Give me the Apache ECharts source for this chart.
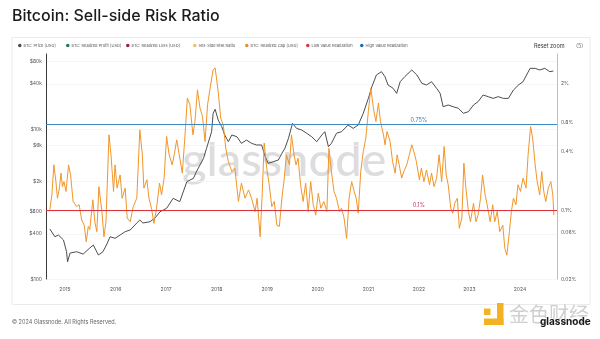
<!DOCTYPE html>
<html>
<head>
<meta charset="utf-8">
<script src="https://cdn.jsdelivr.net/npm/echarts@6/dist/echarts.min.js"></script>
<style>
html,body{margin:0;padding:0;background:#fff;}
#chart{width:600px;height:339px;}
</style>
</head>
<body>
<div id="chart"></div>
<script>
// ---- Data ----
const priceDates = [2014.70,2014.80,2014.87,2014.97,2015.03,2015.05,2015.10,2015.23,2015.36,2015.49,
2015.56,2015.66,2015.75,2015.82,2015.89,2015.99,2016.09,2016.19,2016.29,2016.42,
2016.48,2016.54,2016.68,2016.78,2016.88,2017.01,2017.14,2017.27,2017.41,2017.54,
2017.60,2017.74,2017.80,2017.90,2017.93,2017.97,2018.03,2018.10,2018.16,2018.23,
2018.30,2018.40,2018.49,2018.59,2018.69,2018.79,2018.89,2018.96,2019.02,2019.12,
2019.22,2019.29,2019.35,2019.42,2019.50,2019.58,2019.68,2019.78,2019.88,2019.98,
2020.08,2020.14,2020.21,2020.27,2020.37,2020.47,2020.60,2020.70,2020.80,2020.90,
2021.00,2021.07,2021.16,2021.26,2021.33,2021.39,2021.49,2021.56,2021.63,2021.72,
2021.86,2021.96,2022.06,2022.15,2022.25,2022.35,2022.42,2022.48,2022.58,2022.68,
2022.78,2022.88,2022.98,2023.08,2023.17,2023.27,2023.37,2023.47,2023.57,2023.67,
2023.77,2023.87,2023.97,2024.06,2024.13,2024.20,2024.30,2024.39,2024.49,2024.59,
2024.66];
const priceValues = [464,366,386,331,231,170,222,231,215,259,
284,209,231,284,366,349,386,428,450,558,
612,558,580,651,789,877,1191,1074,1983,2201,
2700,4064,5530,9210,16200,18300,13180,10750,8320,6780,
8320,7890,6440,7130,6440,6120,6120,4270,3490,3660,
3860,4740,5530,7510,11900,10200,9700,8770,7890,6780,
8320,9210,5810,6440,8770,9210,11300,10200,11300,16200,
25600,36600,52500,58100,49800,38600,34900,29900,42700,49800,
61200,52500,40600,38600,42700,34900,29900,19800,20900,19800,
18900,16200,17000,20900,23100,28400,27000,25600,27000,25600,
25600,33100,38600,42700,52500,64400,64400,61200,64400,58100,
59300];

const ssrDates = [2014.70,2014.74,2014.78,2014.82,2014.85,2014.89,2014.92,2014.95,2014.98,2015.02,
2015.07,2015.11,2015.16,2015.23,2015.28,2015.33,2015.38,2015.42,2015.46,2015.49,
2015.55,2015.59,2015.63,2015.67,2015.73,2015.77,2015.81,2015.87,2015.91,2015.96,
2015.99,2016.03,2016.09,2016.13,2016.19,2016.23,2016.29,2016.35,2016.42,2016.48,
2016.53,2016.56,2016.62,2016.66,2016.71,2016.76,2016.81,2016.87,2016.91,2016.96,
2017.01,2017.06,2017.12,2017.16,2017.21,2017.26,2017.32,2017.37,2017.42,2017.47,
2017.53,2017.57,2017.62,2017.67,2017.72,2017.77,2017.82,2017.87,2017.93,2017.97,
2018.03,2018.08,2018.13,2018.18,2018.23,2018.30,2018.36,2018.43,2018.49,2018.56,
2018.63,2018.69,2018.76,2018.80,2018.86,2018.90,2018.94,2018.99,2019.04,2019.09,
2019.14,2019.19,2019.24,2019.29,2019.33,2019.38,2019.44,2019.48,2019.53,2019.57,
2019.61,2019.66,2019.71,2019.76,2019.81,2019.86,2019.91,2019.96,2020.01,2020.06,
2020.12,2020.18,2020.22,2020.27,2020.32,2020.37,2020.43,2020.47,2020.52,2020.57,
2020.62,2020.67,2020.72,2020.76,2020.80,2020.85,2020.90,2020.95,2021.00,2021.05,
2021.10,2021.15,2021.20,2021.24,2021.30,2021.33,2021.37,2021.43,2021.48,2021.53,
2021.57,2021.61,2021.66,2021.70,2021.76,2021.81,2021.86,2021.90,2021.95,2022.01,
2022.05,2022.10,2022.15,2022.21,2022.25,2022.30,2022.35,2022.40,2022.45,2022.50,
2022.54,2022.58,2022.63,2022.67,2022.71,2022.76,2022.80,2022.85,2022.89,2022.93,
2022.98,2023.02,2023.08,2023.13,2023.17,2023.22,2023.26,2023.31,2023.35,2023.41,
2023.46,2023.50,2023.55,2023.60,2023.66,2023.70,2023.74,2023.79,2023.83,2023.87,
2023.92,2023.96,2024.01,2024.06,2024.12,2024.16,2024.21,2024.25,2024.30,2024.34,
2024.39,2024.43,2024.47,2024.51,2024.56,2024.61,2024.65,2024.67];
const ssrValues = [0.102,0.145,0.294,0.198,0.134,0.170,0.242,0.176,0.198,0.157,
0.294,0.232,0.124,0.110,0.115,0.080,0.071,0.048,0.069,0.064,
0.129,0.077,0.061,0.176,0.098,0.054,0.077,0.597,0.372,0.157,
0.294,0.170,0.232,0.134,0.170,0.084,0.077,0.110,0.134,0.671,
0.372,0.170,0.207,0.134,0.106,0.074,0.106,0.191,0.145,0.215,
0.573,0.372,0.294,0.372,0.530,0.372,0.242,0.552,1.417,1.21,
0.597,0.817,1.72,1.12,0.918,0.509,1.21,1.79,2.76,2.88,
1.66,0.885,0.755,0.435,0.318,0.251,0.272,0.124,0.191,0.134,
0.163,0.134,0.098,0.134,0.054,0.145,0.491,0.272,0.184,0.110,
0.124,0.071,0.069,0.134,0.198,0.372,0.294,0.597,0.372,0.294,
0.344,0.184,0.124,0.191,0.098,0.198,0.115,0.090,0.151,0.106,
0.124,0.098,0.435,0.251,0.157,0.134,0.098,0.106,0.084,0.052,
0.134,0.198,0.157,0.134,0.094,0.251,0.403,0.552,1.03,1.79,
1.12,0.817,1.26,0.817,0.597,0.471,0.644,0.509,0.318,0.242,
0.372,0.294,0.215,0.251,0.294,0.372,0.471,0.403,0.318,0.207,
0.272,0.198,0.261,0.184,0.242,0.176,0.215,0.372,0.198,0.453,
0.232,0.184,0.106,0.094,0.119,0.134,0.066,0.084,0.306,0.170,
0.098,0.077,0.119,0.077,0.090,0.134,0.232,0.145,0.115,0.077,
0.115,0.077,0.098,0.061,0.071,0.041,0.035,0.061,0.098,0.134,
0.115,0.184,0.157,0.215,0.170,0.372,0.726,0.552,0.294,0.198,
0.145,0.251,0.157,0.124,0.170,0.198,0.145,0.090];

const highLevel = 0.75;   // % High Value Realization
const lowLevel = 0.1;     // % Low Value Realization
const levelLabelYear = 2022.0;

const yearTicks = [2015,2016,2017,2018,2019,2020,2021,2022,2023,2024];
const priceTickValues = [100,400,800,2000,6000,10000,40000,80000];
const priceTickLabels = ['$100','$400','$800','$2k','$6k','$10k','$40k','$80k'];
const ssrTickValues = [0.02,0.06,0.1,0.4,0.8,2];
const ssrTickLabels = ['0.02%','0.06%','0.1%','0.4%','0.8%','2%'];

const xMin = 2014.624, xMax = 2024.732;
const priceMin = 100, priceMax = 100000;
const ssrMin = 0.02, ssrMax = 4;

// ---- Build ----
const L = Math.log10;
const pricePairs = priceDates.map((t,i)=>[t, L(priceValues[i])]);
const ssrPairs = ssrDates.map((t,i)=>[t, L(ssrValues[i])]);
const priceTickLog = priceTickValues.map(L);
const ssrTickLog = ssrTickValues.map(L);
function lookup(v, logs, labels){
  for (let i=0;i<logs.length;i++) if (Math.abs(logs[i]-v)<1e-6) return labels[i];
  return '';
}
const FONT = 'Inter, "Noto Sans", sans-serif';
const lblStyle = {fontSize:5, color:'#555', fontFamily:FONT};

function legendItem(name, color, left){
  return {data:[{name:name, itemStyle:{color:color}}], left:left, top:43.5, icon:'circle',
    itemWidth:3.5, itemHeight:3.5, padding:0, selectedMode:false,
    textStyle:{fontSize:4, color:'#555', fontFamily:FONT, padding:[0,0,0,-3]}};
}

const chart = echarts.init(document.getElementById('chart'), null, {renderer:'canvas'});
chart.setOption({
  animation:false,
  backgroundColor:'#ffffff',
  title:{text:'Bitcoin: Sell-side Risk Ratio', left:12, top:8, padding:0,
    textStyle:{fontSize:16, fontWeight:500, color:'#1b1b1b', fontFamily:FONT}},
  legend:[
    legendItem('BTC: Price [USD]','#4a4a4a',18),
    legendItem('BTC: Realized Profit [USD]','#1f7a4d',66),
    legendItem('BTC: Realized Loss [USD]','#9c1c50',126),
    legendItem('Sell-Side Risk Ratio','#f6bd60',193),
    legendItem('BTC: Realized Cap [USD]','#ef8a2a',245),
    legendItem('Low Value Realization','#d9343c',306),
    legendItem('High Value Realization','#1f69ad',360)
  ],
  grid:{left:46, right:43, top:54, bottom:60, containLabel:false},
  xAxis:{type:'value', min:xMin, max:xMax,
    axisLine:{show:false}, axisTick:{show:false, customValues:yearTicks}, splitLine:{show:false},
    axisLabel:Object.assign({customValues:yearTicks, margin:7.5, formatter:v=>String(Math.round(v))}, lblStyle)},
  yAxis:[
    {type:'value', position:'left', min:L(priceMin), max:L(priceMax),
      axisLine:{show:true, lineStyle:{color:'#3a3a3a', width:1}},
      axisTick:{show:false, customValues:priceTickLog},
      splitLine:{show:true, lineStyle:{color:'#f2f2f2', width:0.8}},
      axisLabel:Object.assign({customValues:priceTickLog, margin:4,
        formatter:v=>lookup(v, priceTickLog, priceTickLabels)}, lblStyle)},
    {type:'value', position:'right', min:L(ssrMin), max:L(ssrMax),
      axisLine:{show:true, lineStyle:{color:'#f2b46a', width:1}},
      axisTick:{show:false, customValues:ssrTickLog},
      splitLine:{show:false},
      axisLabel:Object.assign({customValues:ssrTickLog, margin:4,
        formatter:v=>lookup(v, ssrTickLog, ssrTickLabels)}, lblStyle)}
  ],
  graphic:[
    {type:'rect', z:-10, silent:true, shape:{x:12, y:37.5, width:578, height:267},
      style:{fill:'#fff', stroke:'#ebebeb', lineWidth:1}},
    {type:'text', z:-5, silent:true, left:182, top:137,
      style:{text:'glassnode', fontSize:47, fontFamily:'Lato, Inter, sans-serif', fontWeight:500,
        fill:'rgba(175,175,180,0.42)'}},
    {type:'text', silent:true, left:534, top:43,
      style:{text:'Reset zoom', fontSize:5.5, fontFamily:FONT, fill:'#333'}},
    {type:'text', silent:true, left:576, top:43,
      style:{text:'(5)', fontSize:5.5, fontFamily:FONT, fill:'#777'}},
    {type:'text', silent:true, left:12, top:319,
      style:{text:'© 2024 Glassnode. All Rights Reserved.', fontSize:5.5, fontFamily:FONT, fill:'#666'}},
    {type:'rect', silent:true, shape:{x:497, y:303, width:6.5, height:22}, style:{fill:'#f4b223'}},
    {type:'rect', silent:true, shape:{x:484, y:318.5, width:19.5, height:6.5}, style:{fill:'#f4b223'}},
    {type:'rect', silent:true, shape:{x:484, y:308.5, width:6.5, height:6.5}, style:{fill:'#f4b223'}},
    {type:'text', silent:true, left:509, top:304,
      style:{text:'金色财经', fontSize:20, fontFamily:'"Noto Sans CJK SC", sans-serif', fill:'#cfcfcf'}},
    {type:'text', silent:true, left:540, top:317,
      style:{text:'glassnode', fontSize:10, fontWeight:'bold', fontFamily:FONT, fill:'#1a1a1a'}}
  ],
  series:[
    {name:'BTC: Price [USD]', type:'line', yAxisIndex:0, data:pricePairs, showSymbol:false,
      lineStyle:{color:'#3a3a3a', width:0.9}, itemStyle:{color:'#4a4a4a'}, z:3},
    {name:'BTC: Realized Profit [USD]', type:'line', data:[], itemStyle:{color:'#1f7a4d'}},
    {name:'BTC: Realized Loss [USD]', type:'line', data:[], itemStyle:{color:'#9c1c50'}},
    {name:'Sell-Side Risk Ratio', type:'line', yAxisIndex:1, data:ssrPairs, showSymbol:false,
      lineStyle:{color:'#f0962a', width:1}, itemStyle:{color:'#f6bd60'}, z:4},
    {name:'BTC: Realized Cap [USD]', type:'line', data:[], itemStyle:{color:'#ef8a2a'}},
    {name:'Low Value Realization', type:'line', yAxisIndex:1, data:[], itemStyle:{color:'#d9343c'}, z:5,
      markLine:{silent:true, symbol:'none', label:{show:false},
        lineStyle:{color:'#d9343c', width:1.1, type:'solid'}, data:[{yAxis:L(lowLevel)}]},
      markPoint:{silent:true, symbol:'circle', symbolSize:1, itemStyle:{color:'rgba(0,0,0,0)'},
        label:{show:true, position:'top', distance:1.5, formatter:lowLevel+'%', fontSize:5.5,
          color:'#c2305c', fontFamily:FONT},
        data:[{coord:[levelLabelYear, L(lowLevel)]}]}},
    {name:'High Value Realization', type:'line', yAxisIndex:1, data:[], itemStyle:{color:'#1f69ad'}, z:5,
      markLine:{silent:true, symbol:'none', label:{show:false},
        lineStyle:{color:'#3b88c6', width:1.1, type:'solid'}, data:[{yAxis:L(highLevel)}]},
      markPoint:{silent:true, symbol:'circle', symbolSize:1, itemStyle:{color:'rgba(0,0,0,0)'},
        label:{show:true, position:'top', distance:1.5, formatter:highLevel+'%', fontSize:5.5,
          color:'#2e7cbf', fontFamily:FONT},
        data:[{coord:[levelLabelYear, L(highLevel)]}]}}
  ]
});
</script>
</body>
</html>
